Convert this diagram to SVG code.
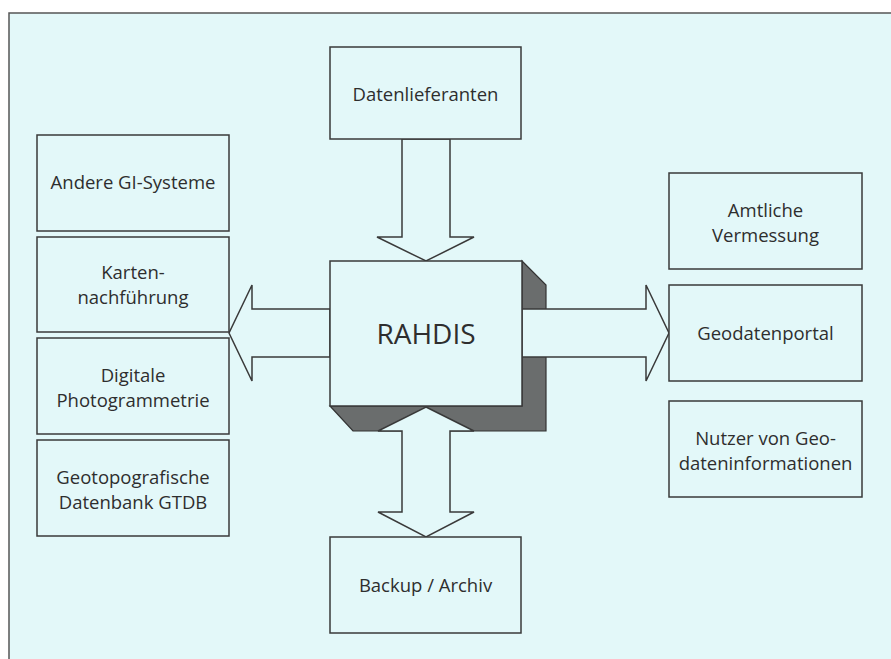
<svg xmlns="http://www.w3.org/2000/svg" width="891" height="659" viewBox="0 0 891 659">
<style>
.box{fill:#e3f8f9;stroke:#3a3a3a;stroke-width:1.5}
.arr{fill:#e3f8f9;stroke:#3a3a3a;stroke-width:1.5;stroke-linejoin:miter}
.sh{fill:#6a6d6d;stroke:#333;stroke-width:1.2;stroke-linejoin:miter}
text{font-family:"Open Sans","Noto Sans","Liberation Sans",sans-serif;font-size:18.5px;fill:#2e2e2e;text-anchor:middle}
.big{font-size:28px}
</style>
<rect x="0" y="0" width="891" height="659" fill="#ffffff"/>
<rect x="9" y="13" width="882" height="646" fill="#e3f8f9"/>
<path d="M9,659 V13 H891" fill="none" stroke="#555" stroke-width="1.5"/>

<g id="connectors">
<polygon class="sh" points="522,261 546,285 546,431 353,431 330,406 522,406"/>
<polygon class="arr" points="402,139 402,237 377,237 426,261 474,237 450,237 450,139"/>
<polygon class="arr" points="426,407 474,431 450,431 450,512 474,512 426,537 378,512 402,512 402,431 378,431"/>
<polygon class="arr" points="522,309 646,309 646,285 669,333 646,381 646,357 522,357"/>
<polygon class="arr" points="330,309 252,309 252,285 229,333 252,381 252,357 330,357"/>
</g>

<g id="rahdis">
<rect class="box" x="330" y="261" width="192" height="145"/>
<text class="big" x="426" y="344">RAHDIS</text>
</g>

<g id="datenlieferanten">
<rect class="box" x="330" y="47" width="191" height="92"/>
<text x="425.5" y="101">Datenlieferanten</text>
</g>

<g id="backup">
<rect class="box" x="330" y="537" width="191" height="96"/>
<text x="425.5" y="592">Backup / Archiv</text>
</g>

<g id="andere">
<rect class="box" x="37" y="135" width="192" height="96"/>
<text x="133" y="189">Andere GI-Systeme</text>
</g>

<g id="karten">
<rect class="box" x="37" y="237" width="192" height="95"/>
<text x="133" y="279">Karten-</text>
<text x="133" y="304">nachführung</text>
</g>

<g id="digitale">
<rect class="box" x="37" y="338" width="192" height="96"/>
<text x="133" y="382">Digitale</text>
<text x="133" y="407">Photogrammetrie</text>
</g>

<g id="geotopo">
<rect class="box" x="37" y="440" width="192" height="96"/>
<text x="133" y="484">Geotopografische</text>
<text x="133" y="509">Datenbank GTDB</text>
</g>

<g id="amtliche">
<rect class="box" x="669" y="173" width="193" height="96"/>
<text x="765.5" y="217">Amtliche</text>
<text x="765.5" y="242">Vermessung</text>
</g>

<g id="geodatenportal">
<rect class="box" x="669" y="285" width="193" height="96"/>
<text x="765.5" y="340">Geodatenportal</text>
</g>

<g id="nutzer">
<rect class="box" x="669" y="401" width="193" height="96"/>
<text x="765.5" y="445">Nutzer von Geo-</text>
<text x="765.5" y="470">dateninformationen</text>
</g>
</svg>
